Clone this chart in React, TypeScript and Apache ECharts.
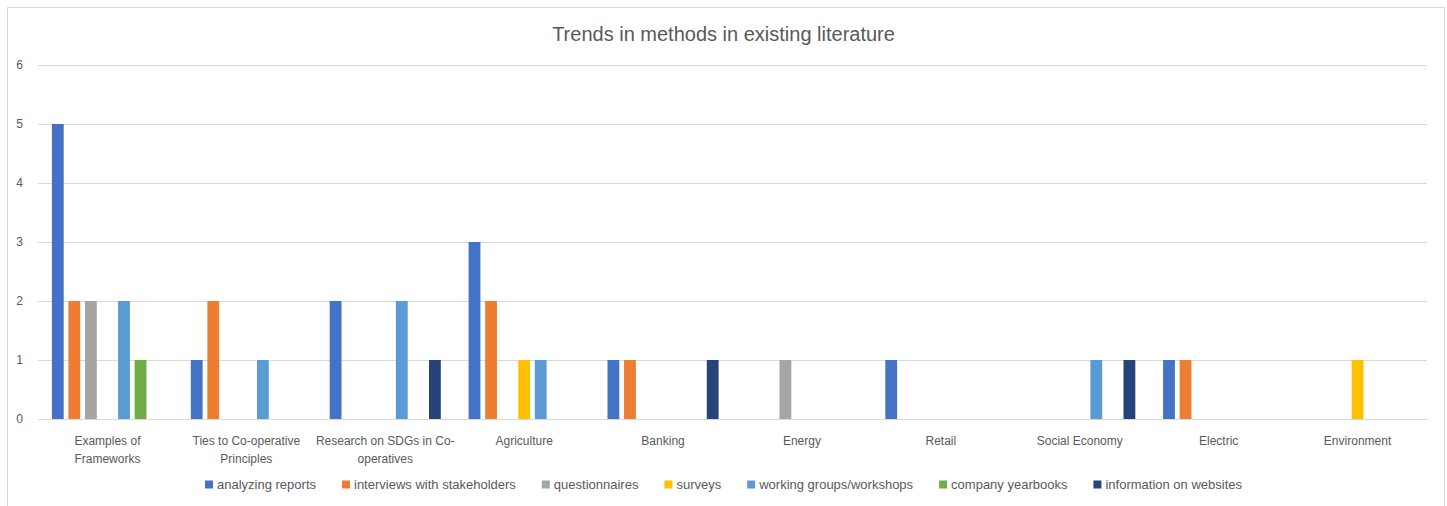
import React, { useEffect, useRef } from "react";
import * as echarts from "echarts";

const categories = [
  "Examples of\nFrameworks",
  "Ties to Co-operative\nPrinciples",
  "Research on SDGs in Co-\noperatives",
  "Agriculture",
  "Banking",
  "Energy",
  "Retail",
  "Social Economy",
  "Electric",
  "Environment",
];

const seriesNames = [
  "analyzing reports",
  "interviews with stakeholders",
  "questionnaires",
  "surveys",
  "working groups/workshops",
  "company yearbooks",
  "information on websites",
];

const analyzingReports = [5, 1, 2, 3, 1, 0, 1, 0, 1, 0];
const interviews = [2, 2, 0, 2, 1, 0, 0, 0, 1, 0];
const questionnaires = [2, 0, 0, 0, 0, 1, 0, 0, 0, 0];
const surveys = [0, 0, 0, 1, 0, 0, 0, 0, 0, 1];
const workingGroups = [2, 1, 2, 1, 0, 0, 0, 1, 0, 0];
const companyYearbooks = [1, 0, 0, 0, 0, 0, 0, 0, 0, 0];
const websites = [0, 0, 1, 0, 1, 0, 0, 1, 0, 0];

const seriesValues = [
  analyzingReports,
  interviews,
  questionnaires,
  surveys,
  workingGroups,
  companyYearbooks,
  websites,
];

const colors = ["#4472C4", "#ED7D31", "#A5A5A5", "#FFC000", "#5B9BD5", "#70AD47", "#264478"];

const font = "'Liberation Sans', Arial, sans-serif";

export default function App() {
  const ref = useRef<HTMLDivElement>(null);
  useEffect(() => {
    if (!ref.current) return;
    const chart = echarts.init(ref.current, null, { renderer: "svg" });
    chart.setOption({
      animation: false,
      color: colors,
      textStyle: { fontFamily: font },
      title: {
        text: "Trends in methods in existing literature",
        left: "center",
        top: 19,
        textStyle: { fontSize: 20, fontWeight: "normal", color: "#595959", fontFamily: font },
      },
      graphic: [
        {
          type: "rect",
          shape: { x: 7.5, y: 7.5, width: 1437, height: 520 },
          style: { fill: "none", stroke: "#d9d9d9", lineWidth: 1 },
          silent: true,
        },
      ],
      legend: {
        bottom: 10,
        left: "center",
        itemWidth: 8,
        itemHeight: 8,
        itemGap: 26,
        icon: "rect",
        textStyle: { fontSize: 13, color: "#595959", fontFamily: font, padding: [0, 0, 0, -1] },
        data: seriesNames,
      },
      grid: { left: 38, right: 20, top: 65, bottom: 87 },
      xAxis: {
        type: "category",
        data: categories,
        axisLine: { lineStyle: { color: "#d9d9d9" } },
        axisTick: { show: false },
        axisLabel: { color: "#595959", fontSize: 12, margin: 13, lineHeight: 18, interval: 0 },
      },
      yAxis: {
        type: "value",
        min: 0,
        max: 6,
        interval: 1,
        axisLine: { show: false },
        axisTick: { show: false },
        axisLabel: { color: "#595959", fontSize: 12, margin: 15 },
        splitLine: { lineStyle: { color: "#d9d9d9" } },
      },
      series: seriesNames.map((name, i) => ({
        name,
        type: "bar",
        data: seriesValues[i],
        barCategoryGap: "20%",
        barGap: "40%",
      })),
    });
    return () => chart.dispose();
  }, []);
  return (
    <div
      ref={ref}
      style={{ position: "absolute", left: 0, top: 0, width: 1447, height: 506, background: "#fff" }}
    />
  );
}
